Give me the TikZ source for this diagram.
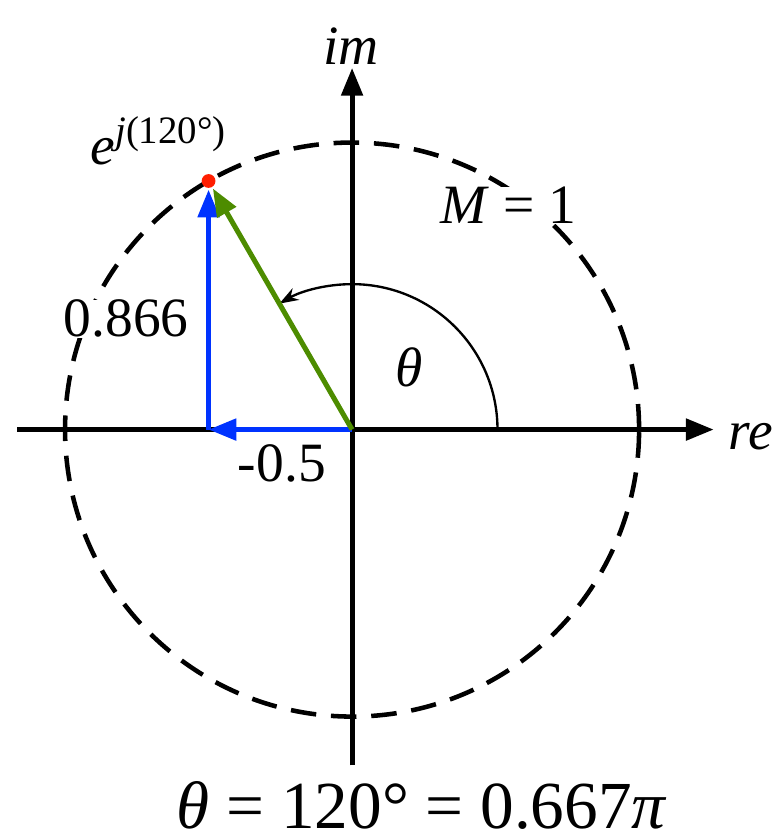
\documentclass[tikz,border=0pt]{standalone}
\usepackage{fontspec}
\setmainfont{Liberation Serif}
\usetikzlibrary{arrows.meta}
\definecolor{vecgreen}{RGB}{77,140,0}
\definecolor{vecblue}{RGB}{0,51,255}
\definecolor{dotred}{RGB}{255,30,0}
\tikzset{
    axis/.style={->, line width=1.5pt},
    vecline/.style={->, line width=1.5pt, shorten >=0.09cm},
    label/.style={inner sep=0pt, anchor=base west, font=\fontsize{16.5}{18}\selectfont},
}
\begin{document}
\begin{tikzpicture}[>={Triangle[length=2.9mm,width=2.2mm]}]
    \useasboundingbox (-3.68,-4.29) rectangle (4.44,4.49);
    \coordinate (O) at (0,0);
    \coordinate (xl) at (-3.5,0);
    \coordinate (xr) at (3.78,0);
    \coordinate (yb) at (0,-3.51);
    \coordinate (yt) at (0,3.78);
    \coordinate (P) at (120:3);
    \coordinate (F) at (-1.5,0);

    % unit circle and its labels
    \draw[line width=1.35pt, dash pattern=on 7.6pt off 4.4pt] (O) circle (3);
    \node[label, fill=white] (mag) at (0.92,2.15) {\textit{M} = 1};
    \node[label, fill=white] (imval) at (-3.02,0.97) {0.866};
    \node[label] (reval) at (-1.20,-0.54) {-0.5};
    \node[label] (expo) at (-2.74,2.77) {\textit{e}\textsuperscript{\textit{j}(120°)}};

    % axes
    \draw[axis] (xl) -- (xr);
    \draw[axis] (yb) -- (yt);
    \node[label] (im) at (-0.31,3.82) {\textit{im}};
    \node[label] (re) at (3.93,-0.21) {\textit{re}};

    % angle
    \draw[->, >={Stealth[length=2mm,width=1.4mm]}, line width=0.7pt] (1.52,0) arc (0:120:1.52);
    \node[label] (theta) at (0.45,0.45) {\textit{θ}};

    % components and phasor
    \draw[->, vecblue, line width=1.5pt] (O) -- (F);
    \draw[vecline, vecblue] (F) -- (P);
    \draw[vecline, vecgreen] (O) -- (P);
    \fill[dotred] (P) circle (0.072);

    \node[label, font=\fontsize{20}{22}\selectfont] (eq) at (-1.84,-4.17) {\textit{θ} = 120° = 0.667\textit{π}};
\end{tikzpicture}
\end{document}
